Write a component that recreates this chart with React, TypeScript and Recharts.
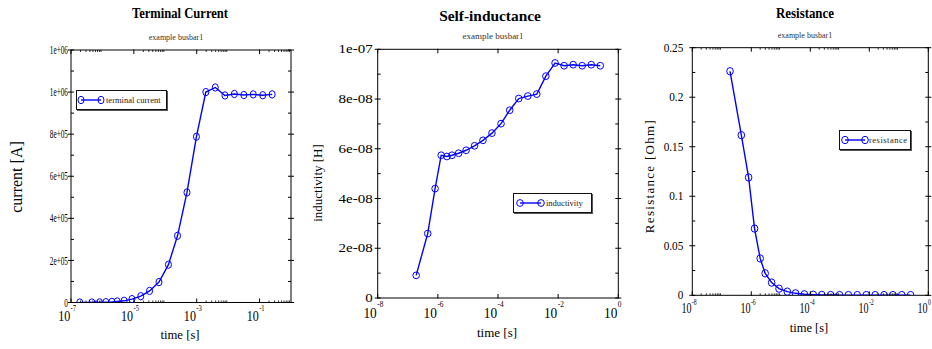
import React from "react";
import { LineChart, Line, XAxis, YAxis, Legend } from "recharts";

const SERIF = "'Liberation Serif', 'Times New Roman', serif";
const BLUE = "#0000ff";

// time samples shared by all three runs [s]
const TIMES = [
  1.9e-7, 4.6e-7, 8.1e-7, 1.29e-6, 2.0e-6, 2.95e-6, 4.9e-6, 8.7e-6, 1.66e-5,
  3.16e-5, 6.3e-5, 1.26e-4, 2.45e-4, 4.9e-4, 9.8e-4, 1.95e-3, 3.9e-3, 7.9e-3,
  1.58e-2, 3.16e-2, 6.3e-2, 0.126, 0.251,
];
const CURRENT = [
  0, 0, 500, 1500, 3000, 5000, 8000, 16000, 30000, 55000, 97000, 180000,
  317000, 523000, 788000, 1000000, 1022000, 984000, 991000, 986000, 989000,
  985000, 989000,
];
const INDUCTANCE = [
  9.1e-9, 2.59e-8, 4.4e-8, 5.74e-8, 5.69e-8, 5.74e-8, 5.82e-8, 5.94e-8,
  6.12e-8, 6.34e-8, 6.63e-8, 7.01e-8, 7.55e-8, 8.02e-8, 8.12e-8, 8.2e-8,
  8.92e-8, 9.45e-8, 9.34e-8, 9.38e-8, 9.34e-8, 9.38e-8, 9.34e-8,
];
const RESISTANCE = [
  0.2262, 0.1617, 0.119, 0.0674, 0.0372, 0.0222, 0.0128, 0.0067, 0.0037,
  0.002, 0.001, 0.0006, 0.0004, 0.0003, 0.0002, 0.0002, 0.0002, 0.0002,
  0.0002, 0.0002, 0.0002, 0.0002, 0.0002,
];

// axis ticks and labels
const CURRENT_TICKS = [0, 1e5, 2e5, 3e5, 4e5, 5e5, 6e5, 7e5, 8e5, 9e5, 1e6, 1.1e6, 1.2e6];
const CURRENT_MAJOR = [0, 2e5, 4e5, 6e5, 8e5, 1e6, 1.2e6];
const CURRENT_LABELS = ["0", "2e+05", "4e+05", "6e+05", "8e+05", "1e+06", "1e+06"];

const IND_TICKS = [0, 1e-8, 2e-8, 3e-8, 4e-8, 5e-8, 6e-8, 7e-8, 8e-8, 9e-8, 1e-7];
const IND_MAJOR = [0, 2e-8, 4e-8, 6e-8, 8e-8, 1e-7];
const IND_LABELS = ["0", "2e-08", "4e-08", "6e-08", "8e-08", "1e-07"];

const RES_TICKS = [0, 0.025, 0.05, 0.075, 0.1, 0.125, 0.15, 0.175, 0.2, 0.225, 0.25];
const RES_MAJOR = [0, 0.05, 0.1, 0.15, 0.2, 0.25];
const RES_LABELS = ["0", "0.05", "0.1", "0.15", "0.2", "0.25"];

const X1_MAJOR = [1e-7, 1e-5, 1e-3, 1e-1];
const X1_EXP = ["-7", "-5", "-3", "-1"];
const X23_MAJOR = [1e-8, 1e-6, 1e-4, 1e-2, 1];
const X23_EXP = ["-8", "-6", "-4", "-2", "0"];
const MINOR_STEPS = [2, 3, 4, 5, 6, 7, 8, 9];

const minorsFor = (decades: number[]) =>
  decades.flatMap((d) => MINOR_STEPS.map((m) => m * d));

type Panel = {
  left: number;
  width: number;
  margin: { top: number; right: number; bottom: number; left: number };
  data: { t: number; v: number }[];
  xDomain: [number, number];
  xMajor: number[];
  xExp: string[];
  xMinor: number[];
  yDomain: [number, number];
  yTicks: number[];
  yMajor: number[];
  yLabels: string[];
  xFont: number;
  xScale: number;
  xDy: number;
  expDy: number;
  yFont: number;
  yScale: number;
  yGap: number;
  rx: number;
  ry: number;
  legend: {
    label: string;
    left: number;
    top: number;
    width: number;
    c1: number;
    c2: number;
    textX: number;
    spacing: number;
  };
};

// margins are the plot box edges minus the 1px axis bands
const PANELS: Panel[] = [
  {
    left: 0,
    width: 310,
    margin: { top: 49, right: 18, bottom: 45.5, left: 70 },
    data: TIMES.map((t, i) => ({ t, v: CURRENT[i] })),
    xDomain: [1e-7, 1],
    xMajor: X1_MAJOR,
    xExp: X1_EXP,
    xMinor: minorsFor([1e-7, 1e-5, 1e-3, 1e-1]),
    yDomain: [0, 1.2e6],
    yTicks: CURRENT_TICKS,
    yMajor: CURRENT_MAJOR,
    yLabels: CURRENT_LABELS,
    xFont: 14.5,
    xScale: 0.83,
    xDy: 18.5,
    expDy: 8.5,
    yFont: 13,
    yScale: 0.56,
    yGap: 3,
    rx: 3,
    ry: 3.7,
    legend: { label: "terminal current", left: 76, top: 90, width: 91, c1: 4, c2: 24, textX: 29, spacing: 0 },
  },
  {
    left: 310,
    width: 320,
    margin: { top: 48.3, right: 10.7, bottom: 50, left: 66.7 },
    data: TIMES.map((t, i) => ({ t, v: INDUCTANCE[i] })),
    xDomain: [1e-8, 1],
    xMajor: X23_MAJOR,
    xExp: X23_EXP,
    xMinor: [],
    yDomain: [0, 1e-7],
    yTicks: IND_TICKS,
    yMajor: IND_MAJOR,
    yLabels: IND_LABELS,
    xFont: 14.5,
    xScale: 0.92,
    xDy: 20,
    expDy: 9,
    yFont: 12.5,
    yScale: 1.2,
    yGap: 5,
    rx: 3.3,
    ry: 3.4,
    legend: { label: "inductivity", left: 203, top: 193, width: 79, c1: 6, c2: 27, textX: 32, spacing: 0 },
  },
  {
    left: 624,
    width: 308,
    margin: { top: 46.7, right: 2.7, bottom: 52.7, left: 67.3 },
    data: TIMES.map((t, i) => ({ t, v: RESISTANCE[i] })),
    xDomain: [1e-8, 1],
    xMajor: X23_MAJOR,
    xExp: X23_EXP,
    xMinor: minorsFor([1e-8, 1e-6, 1e-4, 1e-2]),
    yDomain: [0, 0.25],
    yTicks: RES_TICKS,
    yMajor: RES_MAJOR,
    yLabels: RES_LABELS,
    xFont: 14,
    xScale: 0.72,
    xDy: 18.2,
    expDy: 10,
    yFont: 12.5,
    yScale: 0.9,
    yGap: 9,
    rx: 3.3,
    ry: 3.7,
    legend: { label: "resistance", left: 215, top: 130, width: 72, c1: 5, c2: 25, textX: 29, spacing: 0.5 },
  },
];

const xTick = (p: Panel, side: "bottom" | "top") => (props: any) => {
  const { x, y, payload } = props;
  const i = p.xMajor.indexOf(payload.value);
  const d = side === "bottom" ? -1 : 1;
  if (i < 0) {
    return <line x1={x} x2={x} y1={y} y2={y + d * 2} stroke="#000" strokeWidth={0.8} />;
  }
  return (
    <g>
      <line x1={x} x2={x} y1={y - d * 0.5} y2={y + d * 4} stroke="#000" strokeWidth={1} />
      {side === "bottom" && (
        <g transform={`translate(${x},${y}) scale(${p.xScale},1)`} fontFamily={SERIF} fill="#000">
          <text x={-1} y={p.xDy} textAnchor="end" fontSize={p.xFont}>
            10
          </text>
          <text x={-0.5} y={p.expDy} textAnchor="start" fontSize={8}>
            {p.xExp[i]}
          </text>
        </g>
      )}
    </g>
  );
};

const yTick = (p: Panel, side: "left" | "right") => (props: any) => {
  const { x, y, payload } = props;
  const i = p.yMajor.indexOf(payload.value);
  const d = side === "left" ? 1 : -1;
  if (i < 0) {
    return <line x1={x} x2={x + d * 3} y1={y} y2={y} stroke="#000" strokeWidth={1} />;
  }
  return (
    <g>
      <line x1={x - d * 3} x2={x + d * 3} y1={y} y2={y} stroke="#000" strokeWidth={1} />
      {side === "left" && (
        <text
          transform={`translate(${x - p.yGap},${y + p.yFont * 0.32}) scale(${p.yScale},1)`}
          textAnchor="end"
          fontSize={p.yFont}
          fontFamily={SERIF}
          fill="#000"
        >
          {p.yLabels[i]}
        </text>
      )}
    </g>
  );
};

function LegendBox({ p }: { p: Panel }) {
  const lg = p.legend;
  return (
    <div
      style={{
        position: "relative",
        width: lg.width,
        height: 20,
        boxSizing: "border-box",
        border: "1px solid #111",
        boxShadow: "1px 1px 0 #555",
        background: "#fff",
      }}
    >
      <svg width={lg.width} height={18} style={{ position: "absolute", left: 0, top: 0 }}>
        <line x1={lg.c1} x2={lg.c2} y1={9} y2={9} stroke={BLUE} strokeWidth={1.4} />
        <ellipse cx={lg.c1} cy={9} rx={p.rx} ry={p.ry} fill="none" stroke={BLUE} />
        <ellipse cx={lg.c2} cy={9} rx={p.rx} ry={p.ry} fill="none" stroke={BLUE} />
        <text
          x={lg.textX}
          y={12}
          fontSize={8.5}
          fontFamily={SERIF}
          letterSpacing={lg.spacing}
          fill="#222"
        >
          {lg.label}
        </text>
      </svg>
    </div>
  );
}

function PanelChart({ p }: { p: Panel }) {
  const xTicks = [...p.xMajor, ...p.xMinor];
  return (
    <div style={{ position: "absolute", left: p.left, top: 0 }}>
      <LineChart width={p.width} height={349} data={p.data} margin={p.margin}>
        <XAxis
          xAxisId="b"
          dataKey="t"
          type="number"
          scale="log"
          domain={p.xDomain}
          allowDataOverflow
          ticks={xTicks}
          interval={0}
          height={1}
          tickSize={0}
          tickMargin={0}
          tickLine={false}
          axisLine={{ stroke: "#000" }}
          tick={xTick(p, "bottom")}
        />
        <XAxis
          xAxisId="t"
          orientation="top"
          dataKey="t"
          type="number"
          scale="log"
          domain={p.xDomain}
          allowDataOverflow
          ticks={xTicks}
          interval={0}
          height={1}
          tickSize={0}
          tickMargin={0}
          tickLine={false}
          axisLine={{ stroke: "#000" }}
          tick={xTick(p, "top")}
        />
        <YAxis
          yAxisId="l"
          type="number"
          domain={p.yDomain}
          allowDataOverflow
          ticks={p.yTicks}
          interval={0}
          width={1}
          tickSize={0}
          tickMargin={0}
          tickLine={false}
          axisLine={{ stroke: "#000" }}
          tick={yTick(p, "left")}
        />
        <YAxis
          yAxisId="r"
          orientation="right"
          type="number"
          domain={p.yDomain}
          allowDataOverflow
          ticks={p.yTicks}
          interval={0}
          width={1}
          tickSize={0}
          tickMargin={0}
          tickLine={false}
          axisLine={{ stroke: "#000" }}
          tick={yTick(p, "right")}
        />
        <Legend
          layout="horizontal"
          verticalAlign="middle"
          align="center"
          wrapperStyle={{ left: p.legend.left, top: p.legend.top, width: p.legend.width, height: 20 }}
          content={() => <LegendBox p={p} />}
        />
        <Line
          xAxisId="b"
          yAxisId="l"
          type="linear"
          dataKey="v"
          name={p.legend.label}
          stroke={BLUE}
          strokeWidth={1.4}
          isAnimationActive={false}
          activeDot={false}
          dot={(d: any) => (
            <ellipse
              key={`dot-${d.index}`}
              cx={d.cx}
              cy={d.cy}
              rx={p.rx}
              ry={p.ry}
              fill="none"
              stroke={BLUE}
              strokeWidth={1}
            />
          )}
        />
      </LineChart>
    </div>
  );
}

// titles and axis captions
function Captions() {
  const t = (x: number, y: number, s: string, size: number, opts: any = {}) => (
    <text
      transform={`translate(${x},${y}) scale(${opts.sx ?? 1},1)`}
      textAnchor="middle"
      fontSize={size}
      fontFamily={SERIF}
      fontWeight={opts.bold ? "bold" : "normal"}
      fill={opts.fill ?? "#000"}
      letterSpacing={opts.ls ?? 0}
    >
      {s}
    </text>
  );
  const v = (x: number, y: number, s: string, size: number, ls = 0) => (
    <text
      transform={`translate(${x},${y}) rotate(-90)`}
      textAnchor="middle"
      fontSize={size}
      fontFamily={SERIF}
      letterSpacing={ls}
      fill="#000"
    >
      {s}
    </text>
  );
  return (
    <svg
      width={932}
      height={349}
      style={{ position: "absolute", left: 0, top: 0, pointerEvents: "none" }}
    >
      {t(180, 18.3, "Terminal Current", 14, { bold: true, sx: 0.9 })}
      {t(176, 40, "example busbar1", 8, { fill: "#333" })}
      {v(21.5, 177, "current [A]", 16)}
      {t(180, 339, "time [s]", 12.7)}

      {t(490, 21, "Self-inductance", 14, { bold: true, sx: 1.1 })}
      {t(493, 38.5, "example busbar1", 9, { fill: "#333" })}
      {v(322, 183, "inductivity [H]", 13)}
      {t(497, 337, "time [s]", 13)}

      {t(805, 18.3, "Resistance", 14, { bold: true, sx: 0.92 })}
      {t(805, 37.5, "example busbar1", 8, { fill: "#333" })}
      {v(654, 176, "Resistance [Ohm]", 13, 1.3)}
      {t(809, 332, "time [s]", 12.5)}
    </svg>
  );
}

export default function App() {
  return (
    <div
      style={{
        position: "absolute",
        left: 0,
        top: 0,
        width: 932,
        height: 349,
        background: "#fff",
        overflow: "hidden",
      }}
    >
      {PANELS.map((p, i) => (
        <PanelChart key={i} p={p} />
      ))}
      <Captions />
    </div>
  );
}
